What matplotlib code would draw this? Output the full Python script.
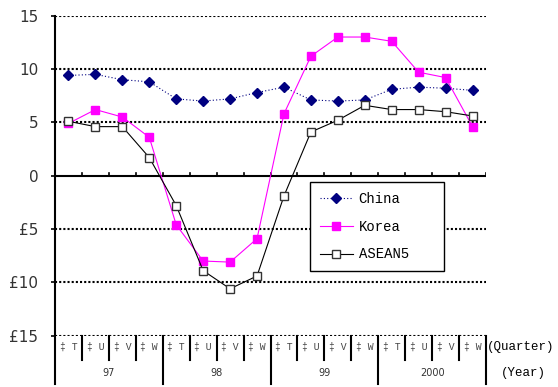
import matplotlib
matplotlib.use("Agg")
from matplotlib import pyplot as plt

# values (growth, %)
china = [9.4, 9.5, 9.0, 8.8, 7.2, 7.0, 7.2, 7.8,
         8.3, 7.1, 7.0, 7.1, 8.1, 8.3, 8.2, 8.0]
korea = [4.9, 6.2, 5.5, 3.6, -4.6, -8.0, -8.1, -5.9,
         5.8, 11.2, 13.0, 13.0, 12.6, 9.7, 9.2, 4.6]
asean5 = [5.1, 4.6, 4.6, 1.7, -2.8, -8.9, -10.6, -9.4,
          -1.9, 4.1, 5.2, 6.6, 6.2, 6.2, 6.0, 5.6]
quarters = ["\u2021 T", "\u2021 U", "\u2021 V", "\u2021 W"] * 4
years = ["97", "98", "99", "2000"]
yticks = [15, 10, 5, 0, -5, -10, -15]
ytick_labels = ["15", "10", "5", "0", "\u00a35", "\u00a310", "\u00a315"]

W, H = 558, 387
fig = plt.figure(figsize=(W / 100, H / 100), dpi=100)
ax = fig.add_axes([55 / W, 1 - 335.7 / H, (486 - 55) / W, (335.7 - 15.7) / H])

x = list(range(len(china)))

# dotted grid
for g in [15, 10, 5, -5, -10, -15]:
    ax.axhline(g, color="black", lw=1.5, linestyle=(0, (1, 1)), zorder=1)
ax.axhline(0, color="black", lw=1.5, zorder=2)
# small ticks on the zero line
for k in range(16):
    ax.plot([k + 0.5, k + 0.5], [0, 0.3], color="black", lw=1.2, zorder=2)

ax.plot(x, china, color="#000080", lw=0.8, linestyle=(0, (1, 2)), marker="D",
        markersize=5, markerfacecolor="#000080", markeredgecolor="#000080",
        label="China", zorder=4)
ax.plot(x, korea, color="#ff00ff", lw=0.8, marker="s", markersize=6,
        markerfacecolor="#ff00ff", markeredgecolor="#ff00ff",
        label="Korea", zorder=4)
ax.plot(x, asean5, color="black", lw=0.8, marker="s", markersize=6,
        markerfacecolor="white", markeredgecolor="#333333",
        markeredgewidth=1, label="ASEAN5", zorder=5)

ax.set_xlim(-0.5, 15.5)
ax.set_ylim(-15, 15)
ax.set_yticks(yticks)
ax.set_yticklabels(ytick_labels, fontsize=11, color="#333333")
ax.tick_params(axis="y", direction="out", length=3, width=1.2, pad=9)
ax.set_xticks([])
for s in ["top", "right", "bottom", "left"]:
    ax.spines[s].set_visible(False)

# category axis drawn below the plot
trans = ax.get_xaxis_transform()
ax.plot([-0.5, -0.5], [-0.151, 1.0], color="black", lw=1.5, transform=trans,
        clip_on=False)
for k in range(1, 17):
    bottom = -0.151 if k % 4 == 0 else -0.075
    ax.plot([k - 0.5, k - 0.5], [0, bottom], color="black", lw=1.5,
            transform=trans, clip_on=False)
for k, q in enumerate(quarters):
    ax.text(k, -0.035, q, transform=trans, ha="center", va="center",
            fontsize=7, family="Liberation Mono", color="#444444")
for i, yr in enumerate(years):
    ax.text(4 * i + 1.5, -0.117, yr, transform=trans, ha="center",
            va="center", fontsize=7, color="#333333")
ax.text(15.55, -0.035, "(Quarter)", transform=trans, ha="left", va="center",
        fontsize=9, family="Liberation Mono")
ax.text(16.9, -0.117, "(Year)", transform=trans, ha="center", va="center",
        fontsize=9, family="Liberation Mono")

leg = ax.legend(loc="upper left",
                bbox_to_anchor=(310 / W, 1 - 274 / H, 134 / W, 92 / H),
                bbox_transform=fig.transFigure, borderaxespad=0, mode="expand",
                fancybox=False, framealpha=1, edgecolor="black",
                prop={"family": "Liberation Mono", "size": 10},
                handlelength=2.4, labelspacing=1.0, borderpad=0.7,
                handletextpad=0.4)
leg.get_frame().set_linewidth(1)
leg.set_zorder(6)

fig.savefig("out.png", dpi=100)
